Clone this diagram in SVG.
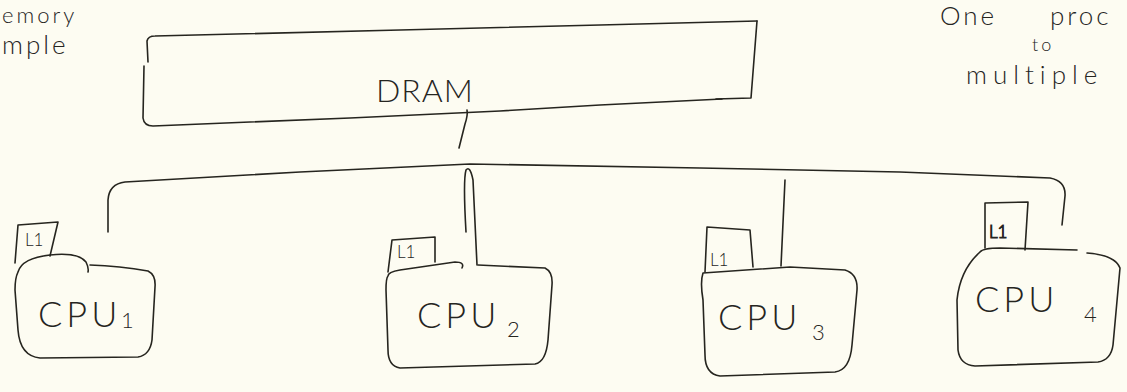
<svg xmlns="http://www.w3.org/2000/svg" width="1127" height="392" viewBox="0 0 1127 392">
  <style>
    .ink { fill: none; stroke: #26251f; stroke-width: 1.6; stroke-linecap: round; stroke-linejoin: round; }
    .hand { font-family: Lato, "Liberation Sans", sans-serif; font-weight: 300; fill: #26251f; }
    .big { font-size: 36px; letter-spacing: 4px; }
    .sub { font-size: 22px; }
    .cache { font-size: 17px; letter-spacing: 0px; }
    .note { font-size: 26px; letter-spacing: 3px; }
  </style>
  <rect width="1127" height="392" fill="#fdfcf2"/>

  <!-- margin notes near the page edges -->
  <g id="notes" class="hand note">
    <text x="2" y="23" font-size="22">emory</text>
    <text x="2" y="54">mple</text>
    <text x="940" y="25">One</text>
    <text x="1050" y="25">proc</text>
    <text x="1032" y="51" font-size="18">to</text>
    <text x="966" y="84" letter-spacing="6">multiple</text>
  </g>

  <!-- main memory -->
  <g id="dram">
    <path class="ink" d="M148,62 L147,41 Q148,36 155,36 L400,30 L600,25 L757,21"/>
    <path class="ink" d="M757,21 L751,98 L716,99"/>
    <path class="ink" d="M144,66 L143,118 Q144,126 153,126 L350,118 L500,111 L600,105 L722,99"/>
    <text class="hand" x="376" y="102" font-size="32" letter-spacing="1">DRAM</text>
  </g>

  <!-- shared bus and drops to each core -->
  <g id="connectors">
    <path class="ink" d="M467,110 Q468,115 465,124 L459,148"/>
    <path class="ink" d="M108,232 L108,200 Q109,184 125,182 L300,172 L470,164 L700,168 L900,172 L1050,178 Q1066,181 1065,196 L1062,225"/>
    <path class="ink" d="M466,232 Q463,180 466,170 Q470,165 473,180 L477,265"/>
    <path class="ink" d="M785,180 L781,266"/>
  </g>

  <g id="cpu1">
    <path class="ink" d="M15,263 L18,225 L58,222 L50,256"/>
    <text class="hand cache" x="25" y="246">L1</text>
    <path class="ink" d="M18,272 Q22,258 50,255 Q78,252 86,262 Q89,268 88,272 M90,265 Q120,266 148,271 Q156,275 155,287 L152,340 Q150,355 138,357 L40,358 Q20,356 18,330 L15,290 Q15,278 18,272"/>
    <text class="hand big" x="38" y="327" letter-spacing="2">CPU</text>
    <text class="hand sub" x="121" y="328">1</text>
  </g>

  <g id="cpu2">
    <path class="ink" d="M388,272 L392,240 L435,237 L435,262"/>
    <text class="hand cache" x="397" y="258">L1</text>
    <path class="ink" d="M388,276 Q388,272 400,270 L455,262 Q465,262 462,268 M478,265 L545,268 Q553,272 552,285 L548,340 Q546,362 535,364 L400,368 Q388,366 388,350 L386,290 Q386,278 388,276"/>
    <text class="hand big" x="417" y="328" letter-spacing="8">CPU</text>
    <text class="hand sub" x="507" y="337">2</text>
  </g>

  <g id="cpu3">
    <path class="ink" d="M705,272 L707,227 L750,230 L753,267"/>
    <text class="hand cache" x="710" y="266">L1</text>
    <path class="ink" d="M703,273 L790,267 L845,270 Q858,274 857,290 L852,345 Q850,370 835,372 L720,376 Q705,374 705,355 L703,300 Q700,282 703,273"/>
    <text class="hand big" x="718" y="330" letter-spacing="6">CPU</text>
    <text class="hand sub" x="812" y="340">3</text>
  </g>

  <g id="cpu4">
    <path class="ink" d="M985,248 L985,203 L1028,202 L1025,250"/>
    <text class="hand cache" x="989" y="238" font-size="20" stroke="#26251f" stroke-width="1">L1</text>
    <path class="ink" d="M980,252 Q983,248 1000,248 L1077,250 M1087,253 Q1115,255 1120,268 L1113,345 Q1111,360 1098,362 L975,366 Q960,365 958,350 L957,300 Q960,270 980,252"/>
    <text class="hand big" x="975" y="312" letter-spacing="7">CPU</text>
    <text class="hand sub" x="1084" y="322" font-size="26">4</text>
  </g>
</svg>
